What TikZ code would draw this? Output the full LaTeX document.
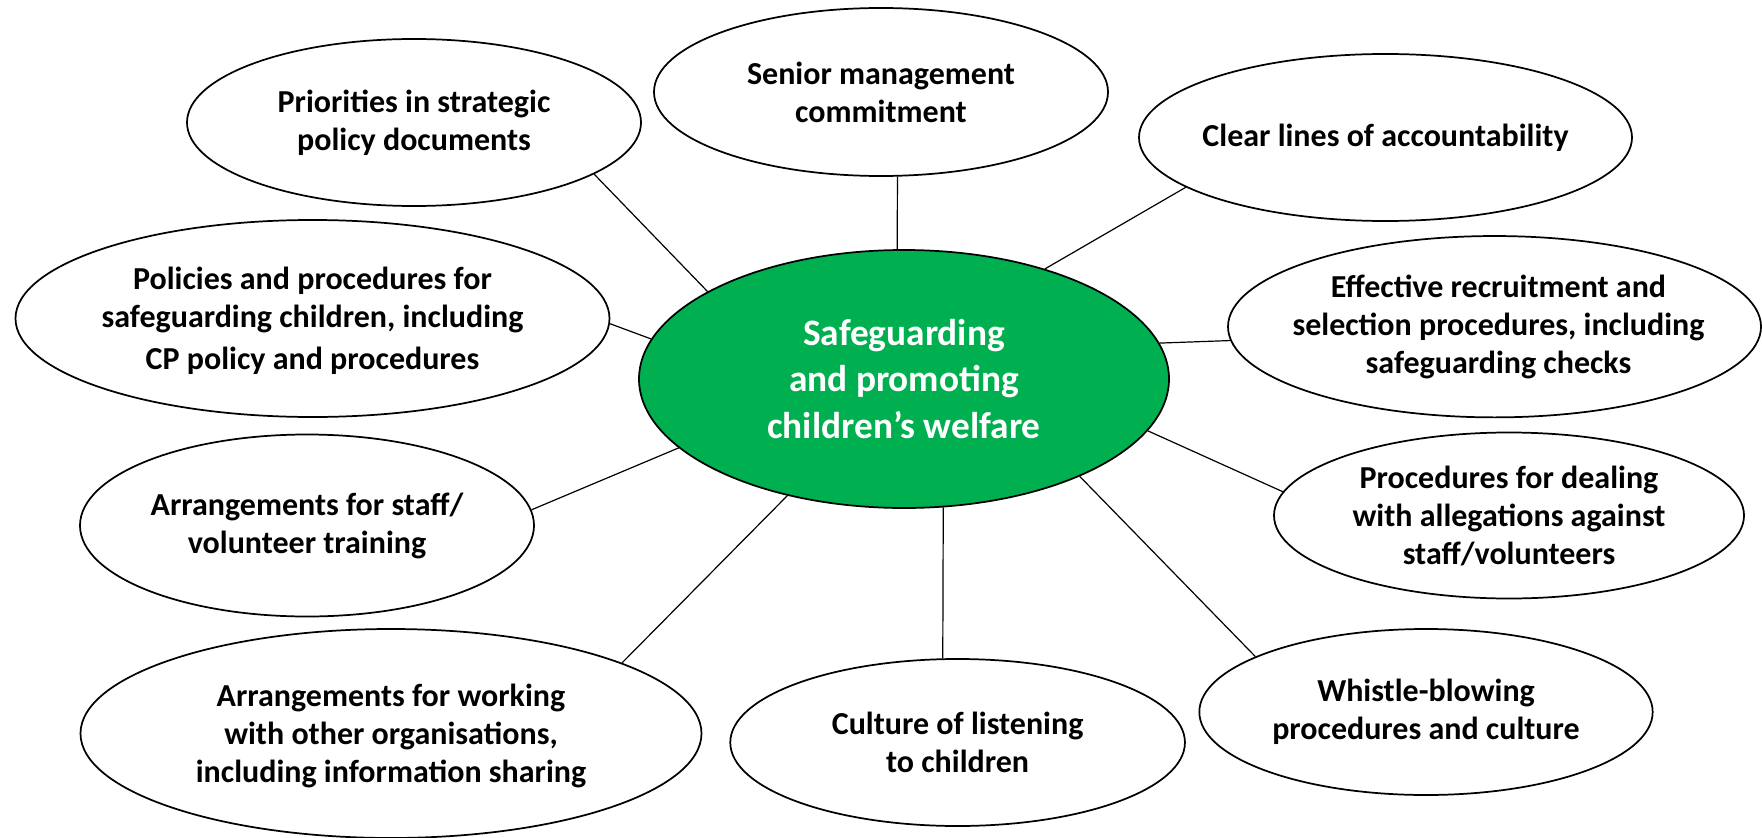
\documentclass[tikz,border=0pt]{standalone}
\usepackage{fontspec}
\setmainfont{Carlito}
\usetikzlibrary{shapes.geometric}
\definecolor{hubgreen}{RGB}{0,176,80}
\begin{document}
\begin{tikzpicture}[x=0.75pt,y=-0.75pt,
  bubble/.style={ellipse, draw=black, line width=1.3pt, fill=white, inner sep=0pt},
  hub/.style={ellipse, draw=black, line width=1.3pt, fill=hubgreen, inner sep=0pt},
  txt/.style={align=center, inner sep=0pt, font=\fontsize{24pt}{28.5pt}\selectfont\bfseries},
  hubtxt/.style={align=center, inner sep=0pt, text=white, font=\fontsize{28pt}{35pt}\selectfont\bfseries},
  link/.style={draw=black, line width=0.9pt}]
\useasboundingbox (0,0) rectangle (1762,838);

% central hub
\node[hub, minimum width=397.5pt, minimum height=193.5pt] (C) at (904,379) {};
\node[hubtxt] (Ct) at (C.center) {Safeguarding\\and promoting\\children’s welfare};

% surrounding bubbles
\node[bubble, minimum width=340.5pt, minimum height=125.25pt] (P) at (414,122.5) {};
\node[bubble, minimum width=340.5pt, minimum height=126pt] (S) at (881,92) {};
\node[bubble, minimum width=369.75pt, minimum height=125.25pt] (L) at (1385.5,137.5) {};
\node[bubble, minimum width=399.75pt, minimum height=136pt] (E) at (1494.5,326.7) {};
\node[bubble, minimum width=445.5pt, minimum height=147.75pt] (Q) at (312.5,318.5) {};
\node[bubble, minimum width=340.5pt, minimum height=136.5pt] (A) at (307,525.5) {};
\node[bubble, minimum width=465.75pt, minimum height=156.75pt] (W) at (391,733.5) {};
\node[bubble, minimum width=341pt, minimum height=125.25pt] (U) at (957.6,742.5) {};
\node[bubble, minimum width=340pt, minimum height=124.5pt] (H) at (1426,712) {};
\node[bubble, minimum width=352.5pt, minimum height=124.5pt] (R) at (1509,515.5) {};

% bubble texts
\node[txt] (Pt) at (P.center) {Priorities in strategic\\policy documents};
\node[txt] (St) at (S.center) {Senior management\\commitment};
\node[txt] (Lt) at (L.center) {Clear lines of accountability};
\node[txt] (Et) at ([xshift=3pt]E.center) {Effective recruitment and\\selection procedures, including\\safeguarding checks};
\node[txt] (Qt) at ([yshift=-1.5pt]Q.center) {Policies and procedures for\\safeguarding children, including\\[3pt]CP policy and procedures};
\node[txt] (At) at (A.center) {Arrangements for staff/\\volunteer training};
\node[txt] (Wt) at ([yshift=-2pt]W.center) {Arrangements for working\\with other organisations,\\including information sharing};
\node[txt] (Ut) at (U.center) {Culture of listening\\to children};
\node[txt] (Ht) at (H.center) {Whistle-blowing\\procedures and culture};
\node[txt] (Rt) at (R.center) {Procedures for dealing\\with allegations against\\staff/volunteers};

% connectors
\draw[link] (P.-16.5) -- (C.156.3);
\draw[link] (S.-79.2) -- (C.93.1);
\draw[link] (L.194.8) -- (C.38.1);
\draw[link] (E.183) -- (C.8.6);
\draw[link] (Q.-1.6) -- (C.171.3);
\draw[link] (A.4.6) -- (C.197.5);
\draw[link] (W.17.8) -- (C.225.2);
\draw[link] (U.100.4) -- (C.-73.4);
\draw[link] (H.162.2) -- (C.-29.2);
\draw[link] (R.174.5) -- (C.-12.1);
\end{tikzpicture}
\end{document}
